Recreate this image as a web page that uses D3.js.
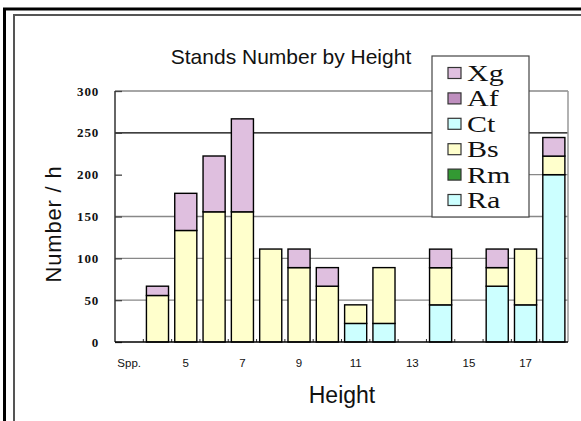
<!DOCTYPE html>
<html><head><meta charset="utf-8">
<script src="https://cdn.jsdelivr.net/npm/d3@7"></script>
<style>body{margin:0;background:#fff}svg{display:block}</style>
</head><body>
<script>
const categories = ["Spp.","4","5","6","7","8","9","10","11","12","13","14","15","16","17","18"];
const tickLabels = ["Spp.","5","7","9","11","13","15","17"];
const seriesNames = ["Ra","Rm","Bs","Ct","Af","Xg"];
const Ra = [0,0,0,0,0,0,0,0,22.2,22.2,0,44.4,0,66.7,44.4,200];
const Rm = [0,0,0,0,0,0,0,0,0,0,0,0,0,0,0,0];
const Bs = [0,55.6,133.3,155.6,155.6,111.1,88.9,66.7,22.2,66.7,0,44.4,0,22.2,66.7,22.2];
const Ct = [0,0,0,0,0,0,0,0,0,0,0,0,0,0,0,0];
const Af = [0,0,0,0,0,0,0,0,0,0,0,0,0,0,0,0];
const Xg = [0,11.1,44.4,66.7,111.1,0,22.2,22.2,0,0,0,22.2,0,22.2,0,22.2];
const yTicks = [0,50,100,150,200,250,300];
const colors = {Ra:"#ccffff",Rm:"#339933",Bs:"#ffffcc",Ct:"#ccffff",Af:"#bf8fbf",Xg:"#dfbfdf"};

const W=581,H=421;
const svg=d3.select("body").append("svg").attr("width",W).attr("height",H);
// frames
svg.append("rect").attr("x",4.5).attr("y",9).attr("width",W+20).attr("height",H+20).attr("fill","none").attr("stroke","#000").attr("stroke-width",3);
svg.append("rect").attr("x",14).attr("y",15).attr("width",W+20).attr("height",H+20).attr("fill","none").attr("stroke","#555").attr("stroke-width",2);

const m={l:115,r:568,t:91,b:342};
const x=d3.scaleBand().domain(categories).range([m.l,m.r]).paddingInner(0.22).paddingOuter(0.11);
const y=d3.scaleLinear().domain([0,300]).range([m.b,m.t]);

const data=categories.map((c,i)=>({cat:c,Ra:Ra[i],Rm:Rm[i],Bs:Bs[i],Ct:Ct[i],Af:Af[i],Xg:Xg[i]}));
const stack=d3.stack().keys(seriesNames)(data);

// legend geometry
const lg={x:432,y:56,w:97,h:161};

// gridlines
[50,100,150].forEach(v=>{
  svg.append("line").attr("x1",m.l).attr("x2",m.r).attr("y1",y(v)).attr("y2",y(v)).attr("stroke","#888").attr("stroke-width",1.3);
});
svg.append("line").attr("x1",m.l).attr("x2",m.r).attr("y1",y(250)).attr("y2",y(250)).attr("stroke","#000").attr("stroke-width",1.3);
svg.append("line").attr("x1",lg.x+lg.w).attr("x2",m.r).attr("y1",y(200)).attr("y2",y(200)).attr("stroke","#888").attr("stroke-width",1.3);
// plot frame
svg.append("line").attr("x1",m.l).attr("x2",m.r).attr("y1",y(300)).attr("y2",y(300)).attr("stroke","#888").attr("stroke-width",1.5);
svg.append("line").attr("x1",m.r).attr("x2",m.r).attr("y1",y(300)).attr("y2",y(0)).attr("stroke","#999").attr("stroke-width",1.5);

// bars
stack.forEach(s=>{
  svg.append("g").selectAll("rect").data(s.filter(d=>d[1]-d[0]>0)).join("rect")
   .attr("x",d=>x(d.data.cat)).attr("width",x.bandwidth())
   .attr("y",d=>y(d[1])).attr("height",d=>y(d[0])-y(d[1]))
   .attr("fill",colors[s.key]).attr("stroke","#000").attr("stroke-width",1.4);
});

// y axis
const ya=svg.append("g").attr("transform",`translate(${m.l},0)`)
 .call(d3.axisRight(y).tickValues(yTicks).tickSize(7).tickFormat(""));
ya.select(".domain").remove();
ya.selectAll("line").attr("stroke","#444").attr("stroke-width",1.3);
svg.append("line").attr("x1",m.l).attr("x2",m.l).attr("y1",y(300)).attr("y2",y(0)).attr("stroke","#333").attr("stroke-width",1.5);
svg.append("g").selectAll("text").data(yTicks).join("text")
 .attr("x",99).attr("y",d=>y(d)+4.5).attr("text-anchor","end")
 .attr("font-family","Liberation Serif, serif").attr("font-size",13).attr("font-weight","bold")
 .attr("letter-spacing",0.8).attr("fill","#111").text(d=>d);

// x axis
const boundaries=categories.slice(1).map(c=>x(c)-x.step()*x.paddingInner()/2);
svg.append("g").selectAll("line").data(boundaries).join("line")
 .attr("x1",d=>d).attr("x2",d=>d).attr("y1",y(0)).attr("y2",y(0)-3).attr("stroke","#333").attr("stroke-width",1);
svg.append("line").attr("x1",m.l).attr("x2",m.r).attr("y1",y(0)).attr("y2",y(0)).attr("stroke","#000").attr("stroke-width",1.5);
svg.append("g").selectAll("text").data(tickLabels).join("text")
 .attr("x",d=>x(d)+x.bandwidth()/2).attr("y",367).attr("text-anchor","middle")
 .attr("font-family","Liberation Sans, Arial, sans-serif").attr("font-size",11.5).attr("fill","#111").text(d=>d);

// titles
svg.append("text").attr("x",291).attr("y",64).attr("text-anchor","middle")
 .attr("font-family","Liberation Sans, Arial, sans-serif").attr("font-size",21).attr("fill","#111").text("Stands Number by Height");
svg.append("text").attr("x",342).attr("y",403).attr("text-anchor","middle")
 .attr("font-family","Liberation Sans, Arial, sans-serif").attr("font-size",23).attr("fill","#111").text("Height");
svg.append("text").attr("transform","translate(61,224) rotate(-90)").attr("text-anchor","middle")
 .attr("font-family","Liberation Sans, Arial, sans-serif").attr("font-size",22).attr("letter-spacing",0.8).attr("fill","#111").text("Number / h");

// legend
svg.append("rect").attr("x",lg.x).attr("y",lg.y).attr("width",lg.w).attr("height",lg.h).attr("fill","#fff").attr("stroke","#444").attr("stroke-width",1.2);
const legOrder=seriesNames.slice().reverse();
const li=svg.append("g").selectAll("g").data(legOrder).join("g").attr("transform",(d,i)=>`translate(${lg.x+16},${lg.y+17+i*25.4})`);
li.append("rect").attr("x",0).attr("y",-5.5).attr("width",13).attr("height",11).attr("fill",d=>colors[d]).attr("stroke","#333").attr("stroke-width",1.2);
li.append("text").attr("transform","translate(19,8) scale(1.25,1)").attr("font-family","Liberation Serif, serif").attr("font-size",24).attr("fill","#111").text(d=>d);
</script>
</body></html>
